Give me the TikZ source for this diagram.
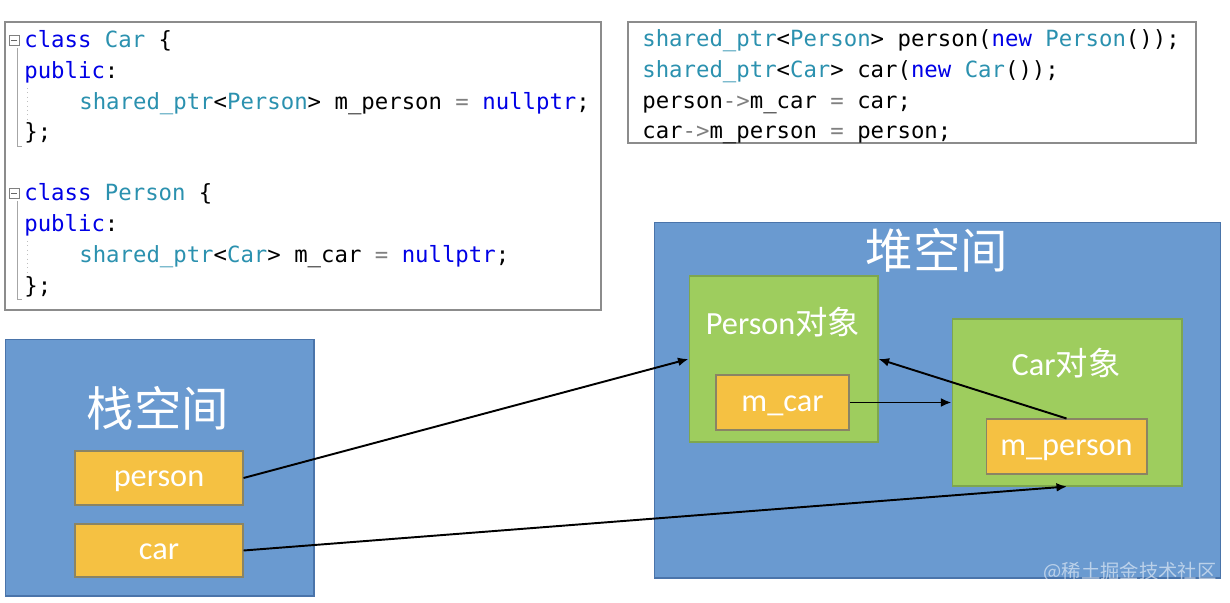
\documentclass[tikz,border=0pt]{standalone}
\usepackage{fontspec}
\usepackage{xcolor}
\usepackage{tikz}
\usetikzlibrary{arrows.meta, positioning}
\setmainfont{Carlito}
\setmonofont{DejaVu Sans Mono}
\newfontfamily\cjk{Noto Sans CJK SC}
\definecolor{corPilha}{RGB}{106,154,208}
\definecolor{corBordaAzul}{RGB}{74,116,170}
\definecolor{corObjeto}{RGB}{158,205,94}
\definecolor{corBordaVerde}{RGB}{126,166,78}
\definecolor{corCampo}{RGB}{245,193,66}
\definecolor{corBordaCampo}{RGB}{138,132,100}
\definecolor{corChave}{RGB}{0,0,230}
\definecolor{corTipo}{RGB}{43,145,175}
\newcommand{\kwd}[1]{\textcolor{corChave}{#1}}
\newcommand{\tyc}[1]{\textcolor{corTipo}{#1}}
\newcommand{\opc}[1]{\textcolor{gray}{#1}}

\begin{document}
\begin{tikzpicture}[x=0.02cm, y=-0.02cm,
          codebox/.style={rectangle, draw=black!45, fill=white, line width=0.8pt},
          code/.style={anchor=base west, inner sep=0pt, font=\fontsize{12.7}{15}\ttfamily},
          space/.style={rectangle, draw=corBordaAzul, fill=corPilha, line width=0.6pt},
          obj/.style={rectangle, draw=corBordaVerde, fill=corObjeto, line width=0.6pt},
          field/.style={rectangle, draw=corBordaCampo, fill=corCampo, line width=0.6pt,
            text=white, text height=11pt, text depth=1.2pt, font=\fontsize{18.4}{20}\selectfont},
          title/.style={text=white, inner sep=0pt, font=\fontsize{27}{30}\selectfont\cjk},
          label/.style={text=white, inner sep=0pt, font=\fontsize{18.4}{20}\selectfont},
          link/.style={-{Latex[length=6pt,width=5pt]}, line width=1.1pt, black}]
        \useasboundingbox (0,0) rectangle (1230,602);
        % code boxes
        \node[codebox, minimum width=11.92cm, minimum height=5.76cm] (c1) at (303,166) {};
        \node[codebox, minimum width=11.36cm, minimum height=2.42cm] (c2) at (912,82.5) {};
        \foreach \y in {40,193}{
          \draw[black!50, line width=0.4pt, fill=white] (9,\y-5) rectangle (19,\y+5);
          \draw[black!60, line width=0.5pt] (11,\y) -- (17,\y);
          \draw[black!35, line width=0.5pt] (17,\y+8) -- (17,\y+106) -- (22,\y+106);
          \draw[black!25, line width=0.5pt, dotted] (27,\y+48) -- (27,\y+80);}
        \node[code] (l1) at (24,47) {\kwd{class} \tyc{Car} \{};
        \node[code] (l2) at (24,78) {\kwd{public}:};
        \node[code] (l3) at (79,109) {\tyc{shared\_ptr}<\tyc{Person}> m\_person \opc{=} \kwd{nullptr};};
        \node[code] (l4) at (24,139) {\};};
        \node[code] (l5) at (24,200) {\kwd{class} \tyc{Person} \{};
        \node[code] (l6) at (24,231) {\kwd{public}:};
        \node[code] (l7) at (79,262) {\tyc{shared\_ptr}<\tyc{Car}> m\_car \opc{=} \kwd{nullptr};};
        \node[code] (l8) at (24,293) {\};};
        \node[code] (r1) at (642,46) {\tyc{shared\_ptr}<\tyc{Person}> person(\kwd{new} \tyc{Person}());};
        \node[code] (r2) at (642,77) {\tyc{shared\_ptr}<\tyc{Car}> car(\kwd{new} \tyc{Car}());};
        \node[code] (r3) at (642,108) {person\opc{->}m\_car \opc{=} car;};
        \node[code] (r4) at (642,138) {car\opc{->}m\_person \opc{=} person;};
        % stack
        \node[space, minimum width=6.18cm, minimum height=5.14cm] (stack) at (159.5,467.5) {};
        \node[title] (stackt) at (158,408) {栈空间};
        \node[field, minimum width=3.36cm, minimum height=1.08cm] (person) at (159,478) {person};
        \node[field, minimum width=3.36cm, minimum height=1.06cm] (car) at (159,550.5) {car};
        % heap
        \node[space, minimum width=11.34cm, minimum height=7.12cm] (heap) at (937.5,400) {};
        \node[title] (heapt) at (937,250) {堆空间};
        \node[obj, minimum width=3.78cm, minimum height=3.32cm] (pobj) at (783.5,359) {};
        \node[label] (pobjt) at (783,322) {Person{\cjk 对象}};
        \node[field, minimum width=2.66cm, minimum height=1.1cm] (mcar) at (782.5,402.5) {m\_car};
        \node[obj, minimum width=4.6cm, minimum height=3.34cm] (cobj) at (1067,402.5) {};
        \node[label] (cobjt) at (1066,363) {Car{\cjk 对象}};
        \node[field, minimum width=3.22cm, minimum height=1.1cm] (mperson) at (1066.5,446.5) {m\_person};
        \node[text=white, opacity=0.55, inner sep=0pt, font=\fontsize{11}{12}\selectfont\cjk] (mark) at (1130,572) {@稀土掘金技术社区};
        % references
        \draw[link] (person.east) -- (pobj.west);
        \draw[link] (car.east) -- (cobj.south);
        \draw[link] (mcar.east) -- (cobj.west);
        \draw[link] (mperson.north) -- (pobj.east);
      \end{tikzpicture}
\end{document}
